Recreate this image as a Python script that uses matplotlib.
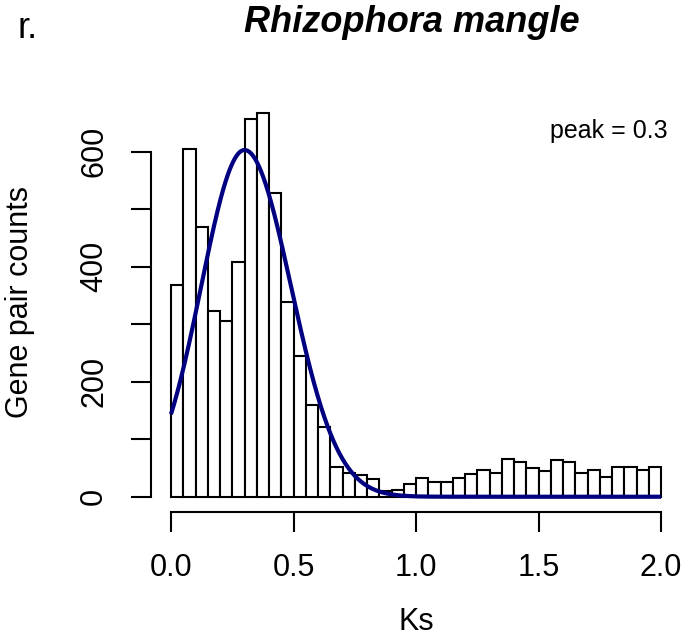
import numpy as np
import matplotlib
matplotlib.use("Agg")
import matplotlib.pyplot as plt

plt.rcParams['font.family'] = ['Liberation Sans', 'DejaVu Sans']

# Ks histogram: 0.05-wide bins starting at 0
bin_width = 0.05
counts = [369, 604, 470, 323, 305, 408, 657, 668, 529, 339,
          245, 160, 121, 52, 42, 37, 31, 10, 12, 23,
          33, 26, 26, 32, 39, 46, 42, 65, 60, 50,
          45, 64, 61, 42, 47, 35, 52, 52, 47, 52]

# fitted peak curve parameters
peak_ks = 0.3
peak_height = 603
sd_left = 0.177
sd_right = 0.19

x_ticks = [0.0, 0.5, 1.0, 1.5, 2.0]
x_ticklabels = ["0.0", "0.5", "1.0", "1.5", "2.0"]
y_ticks = [0, 100, 200, 300, 400, 500, 600]
y_ticklabels = ["0", "", "200", "", "400", "", "600"]

W, H = 694, 644
fig = plt.figure(figsize=(W / 100, H / 100), dpi=100)

left_px, right_px, top_px, bottom_px = 151.4, 680.6, 97.3, 512.1
ax = fig.add_axes([left_px / W, 1 - bottom_px / H,
                   (right_px - left_px) / W, (bottom_px - top_px) / H])

edges = np.arange(len(counts)) * bin_width
ax.bar(edges, counts, width=bin_width, align='edge', facecolor='white',
       edgecolor='black', linewidth=1.5)

ks = np.linspace(0, 2, 801)
sd = np.where(ks < peak_ks, sd_left, sd_right)
fit = peak_height * np.exp(-(ks - peak_ks) ** 2 / (2 * sd ** 2))
ax.plot(ks, fit, color='#000080', linewidth=3.0, solid_capstyle='butt')

ymax = max(counts)
ax.set_xlim(-0.04 * 2, 2 + 0.04 * 2)
ax.set_ylim(-0.04 * ymax, ymax * 1.04)

for s in ['top', 'right']:
    ax.spines[s].set_visible(False)
ax.spines['left'].set_bounds(0, 600)
ax.spines['bottom'].set_bounds(0, 2)
for s in ['left', 'bottom']:
    ax.spines[s].set_linewidth(1.5)

ax.set_xticks(x_ticks)
ax.set_xticklabels(x_ticklabels)
ax.set_yticks(y_ticks)
ax.set_yticklabels(y_ticklabels, rotation=90, va='center')
ax.tick_params(axis='both', direction='out', length=14.4, width=1.5,
               labelsize=22)
ax.tick_params(axis='x', pad=15)
ax.tick_params(axis='y', pad=16)

fig.text(416 / W, 1 - 622 / H, "Ks", fontsize=22, ha='center', va='center')
fig.text(20 / W, 1 - 302 / H, "Gene pair counts", fontsize=22,
         rotation=90, ha='center', va='center')

fig.text(411.5 / W, 1 - 31.7 / H, "Rhizophora mangle", fontsize=26,
         fontweight='bold', fontstyle='italic', ha='center', va='baseline')
fig.text(18 / W, 1 - 37.7 / H, "r.", fontsize=26, ha='left', va='baseline')
fig.text(668 / W, 1 - 138 / H, "peak = 0.3", fontsize=18, ha='right',
         va='baseline')

fig.savefig("out.png", dpi=100)
